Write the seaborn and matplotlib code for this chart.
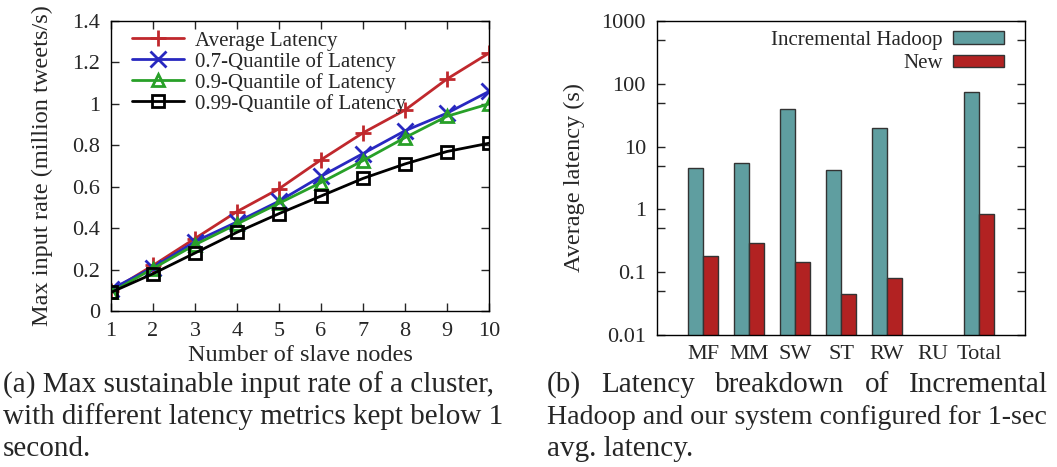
import numpy as np
import pandas as pd
import matplotlib
matplotlib.use("Agg")
import matplotlib.pyplot as plt
import matplotlib.ticker as mticker
import seaborn as sns

# ---------------- data ----------------
nodes = [1, 2, 3, 4, 5, 6, 7, 8, 9, 10]
avg_latency = [0.097, 0.22, 0.35, 0.48, 0.59, 0.73, 0.86, 0.97, 1.12, 1.245]
q07_latency = [0.105, 0.21, 0.335, 0.43, 0.53, 0.65, 0.76, 0.87, 0.955, 1.06]
q09_latency = [0.09, 0.205, 0.32, 0.42, 0.52, 0.62, 0.726, 0.837, 0.94, 1.0]
q099_latency = [0.09, 0.18, 0.28, 0.38, 0.47, 0.555, 0.64, 0.71, 0.77, 0.81]
line_labels = ["Average Latency", "0.7-Quantile of Latency",
               "0.9-Quantile of Latency", "0.99-Quantile of Latency"]

categories = ["MF", "MM", "SW", "ST", "RW", "RU", "Total"]
hadoop = [4.48, 5.5, 39.4, 4.3, 20.1, np.nan, 74.0]
new_sys = [0.18, 0.294, 0.143, 0.0443, 0.0817, np.nan, 0.84]
bar_labels = ["Incremental Hadoop", "New"]

caption_a = ["(a) Max sustainable input rate of a cluster,",
             "with different latency metrics kept below 1",
             "second."]
caption_b_first = ["(b)", "Latency", "breakdown", "of", "Incremental"]
caption_b = ["Hadoop and our system configured for 1-sec",
             "avg. latency."]

# ---------------- style ----------------
sns.set_theme(style="ticks")
plt.rcParams["font.family"] = ["Liberation Serif", "DejaVu Serif"]

fig = plt.figure(figsize=(10.57, 4.67), dpi=100)
ax1 = fig.add_axes([0.105, 0.334, 0.3576, 0.621])
ax2 = fig.add_axes([0.6216, 0.2827, 0.3481, 0.6723])

# ---------------- left line chart ----------------
series = [avg_latency, q07_latency, q09_latency, q099_latency]
colors = ["#C0282D", "#2828C0", "#28A028", "#000000"]
markers = ["+", "x", "^", "s"]
for vals, lab, col, mk in zip(series, line_labels, colors, markers):
    df = pd.DataFrame({"nodes": nodes, "rate": vals})
    filled = mk in ("+", "x")
    sns.lineplot(data=df, x="nodes", y="rate", ax=ax1, color=col, label=lab,
                 marker=mk, markersize=11 if filled else 9,
                 markeredgewidth=2,
                 markerfacecolor=col if filled else "none",
                 markeredgecolor=col, linewidth=2)

ax1.set_xlim(1, 10)
ax1.set_ylim(0, 1.4)
ax1.set_xticks(nodes)
ax1.set_yticks([0, 0.2, 0.4, 0.6, 0.8, 1.0, 1.2, 1.4])
ax1.yaxis.set_major_formatter(mticker.FuncFormatter(lambda v, p: f"{v:g}"))
ax1.tick_params(direction="in", top=True, right=True, labelsize=16, length=6, width=1, pad=8)
ax1.set_xlabel("Number of slave nodes", fontsize=17.5, labelpad=3)
ax1.set_ylabel("Max input rate (million tweets/s)", fontsize=17.5, labelpad=14)
for s in ax1.spines.values():
    s.set_color("black")
    s.set_linewidth(1)
leg1 = ax1.legend(loc="upper left", frameon=False, fontsize=15, handlelength=2.5,
                  borderaxespad=0, borderpad=0, labelspacing=0.05, handletextpad=0.5,
                  bbox_to_anchor=(0.056, 0.965))

# ---------------- right bar chart ----------------
bdf = pd.DataFrame({
    "cat": categories * 2,
    "val": hadoop + new_sys,
    "sys": [bar_labels[0]] * len(categories) + [bar_labels[1]] * len(categories),
})
sns.barplot(data=bdf, x="cat", y="val", hue="sys", order=categories,
            hue_order=bar_labels, palette=["#5F9EA0", "#B22222"],
            width=0.667, edgecolor="#333333", linewidth=1, ax=ax2,
            log_scale=(False, True), saturation=1)
ax2.set_yscale("log")
ax2.set_ylim(0.01, 1000)
ax2.set_xlim(-1, len(categories))
ax2.yaxis.set_major_locator(mticker.FixedLocator([0.01, 0.1, 1, 10, 100, 1000]))
ax2.yaxis.set_major_formatter(mticker.FuncFormatter(lambda v, p: f"{v:g}"))
ax2.yaxis.set_minor_locator(mticker.FixedLocator([0.05, 0.5, 5, 50, 500]))
ax2.yaxis.set_minor_formatter(mticker.NullFormatter())
ax2.tick_params(axis="y", which="both", direction="in", right=True, labelsize=16, width=1, pad=8)
ax2.tick_params(axis="y", which="major", length=6)
ax2.tick_params(axis="y", which="minor", length=6)
ax2.tick_params(axis="x", length=0, labelsize=16, pad=7)
ax2.set_xlabel("")
ax2.set_ylabel("Average latency (s)", fontsize=17.5, labelpad=12)
for s in ax2.spines.values():
    s.set_color("black")
    s.set_linewidth(1)
leg2 = ax2.legend(loc="upper right", frameon=False, fontsize=15, markerfirst=False,
                  handlelength=2.45, handleheight=0.55, labelspacing=0.2,
                  handletextpad=0.5, borderaxespad=0, borderpad=0,
                  bbox_to_anchor=(0.943, 0.968))
for h in leg2.legend_handles:
    h.set_edgecolor("#333333")

# ---------------- captions ----------------
renderer = fig.canvas.get_renderer()


def fit_text(x_px, y_px, txt, target_w, fs=21, ha="left"):
    t = fig.text(x_px / 1057, 1 - y_px / 467, txt, fontsize=fs, ha=ha, va="center")
    w = t.get_window_extent(renderer).width
    if w > target_w:
        t.set_fontsize(fs * target_w / w)
    return t


ys = [385, 417, 449]
fit_text(3, ys[0], caption_a[0], 500)
fit_text(3, ys[1], caption_a[1], 500)
fit_text(3, ys[2], caption_a[2], 500)

# justified first line of caption (b)
left_b, right_b = 547, 1048
word_texts = [fit_text(left_b, ys[0], w, 400) for w in caption_b_first]
widths = [t.get_window_extent(renderer).width for t in word_texts]
gap = (right_b - left_b - sum(widths)) / (len(widths) - 1)
x = left_b
for t, w in zip(word_texts, widths):
    t.set_x(x / 1057)
    x += w + gap

fit_text(left_b, ys[1], caption_b[0], 500)
fit_text(left_b, ys[2], caption_b[1], 500)

fig.savefig("out.png", dpi=100)
